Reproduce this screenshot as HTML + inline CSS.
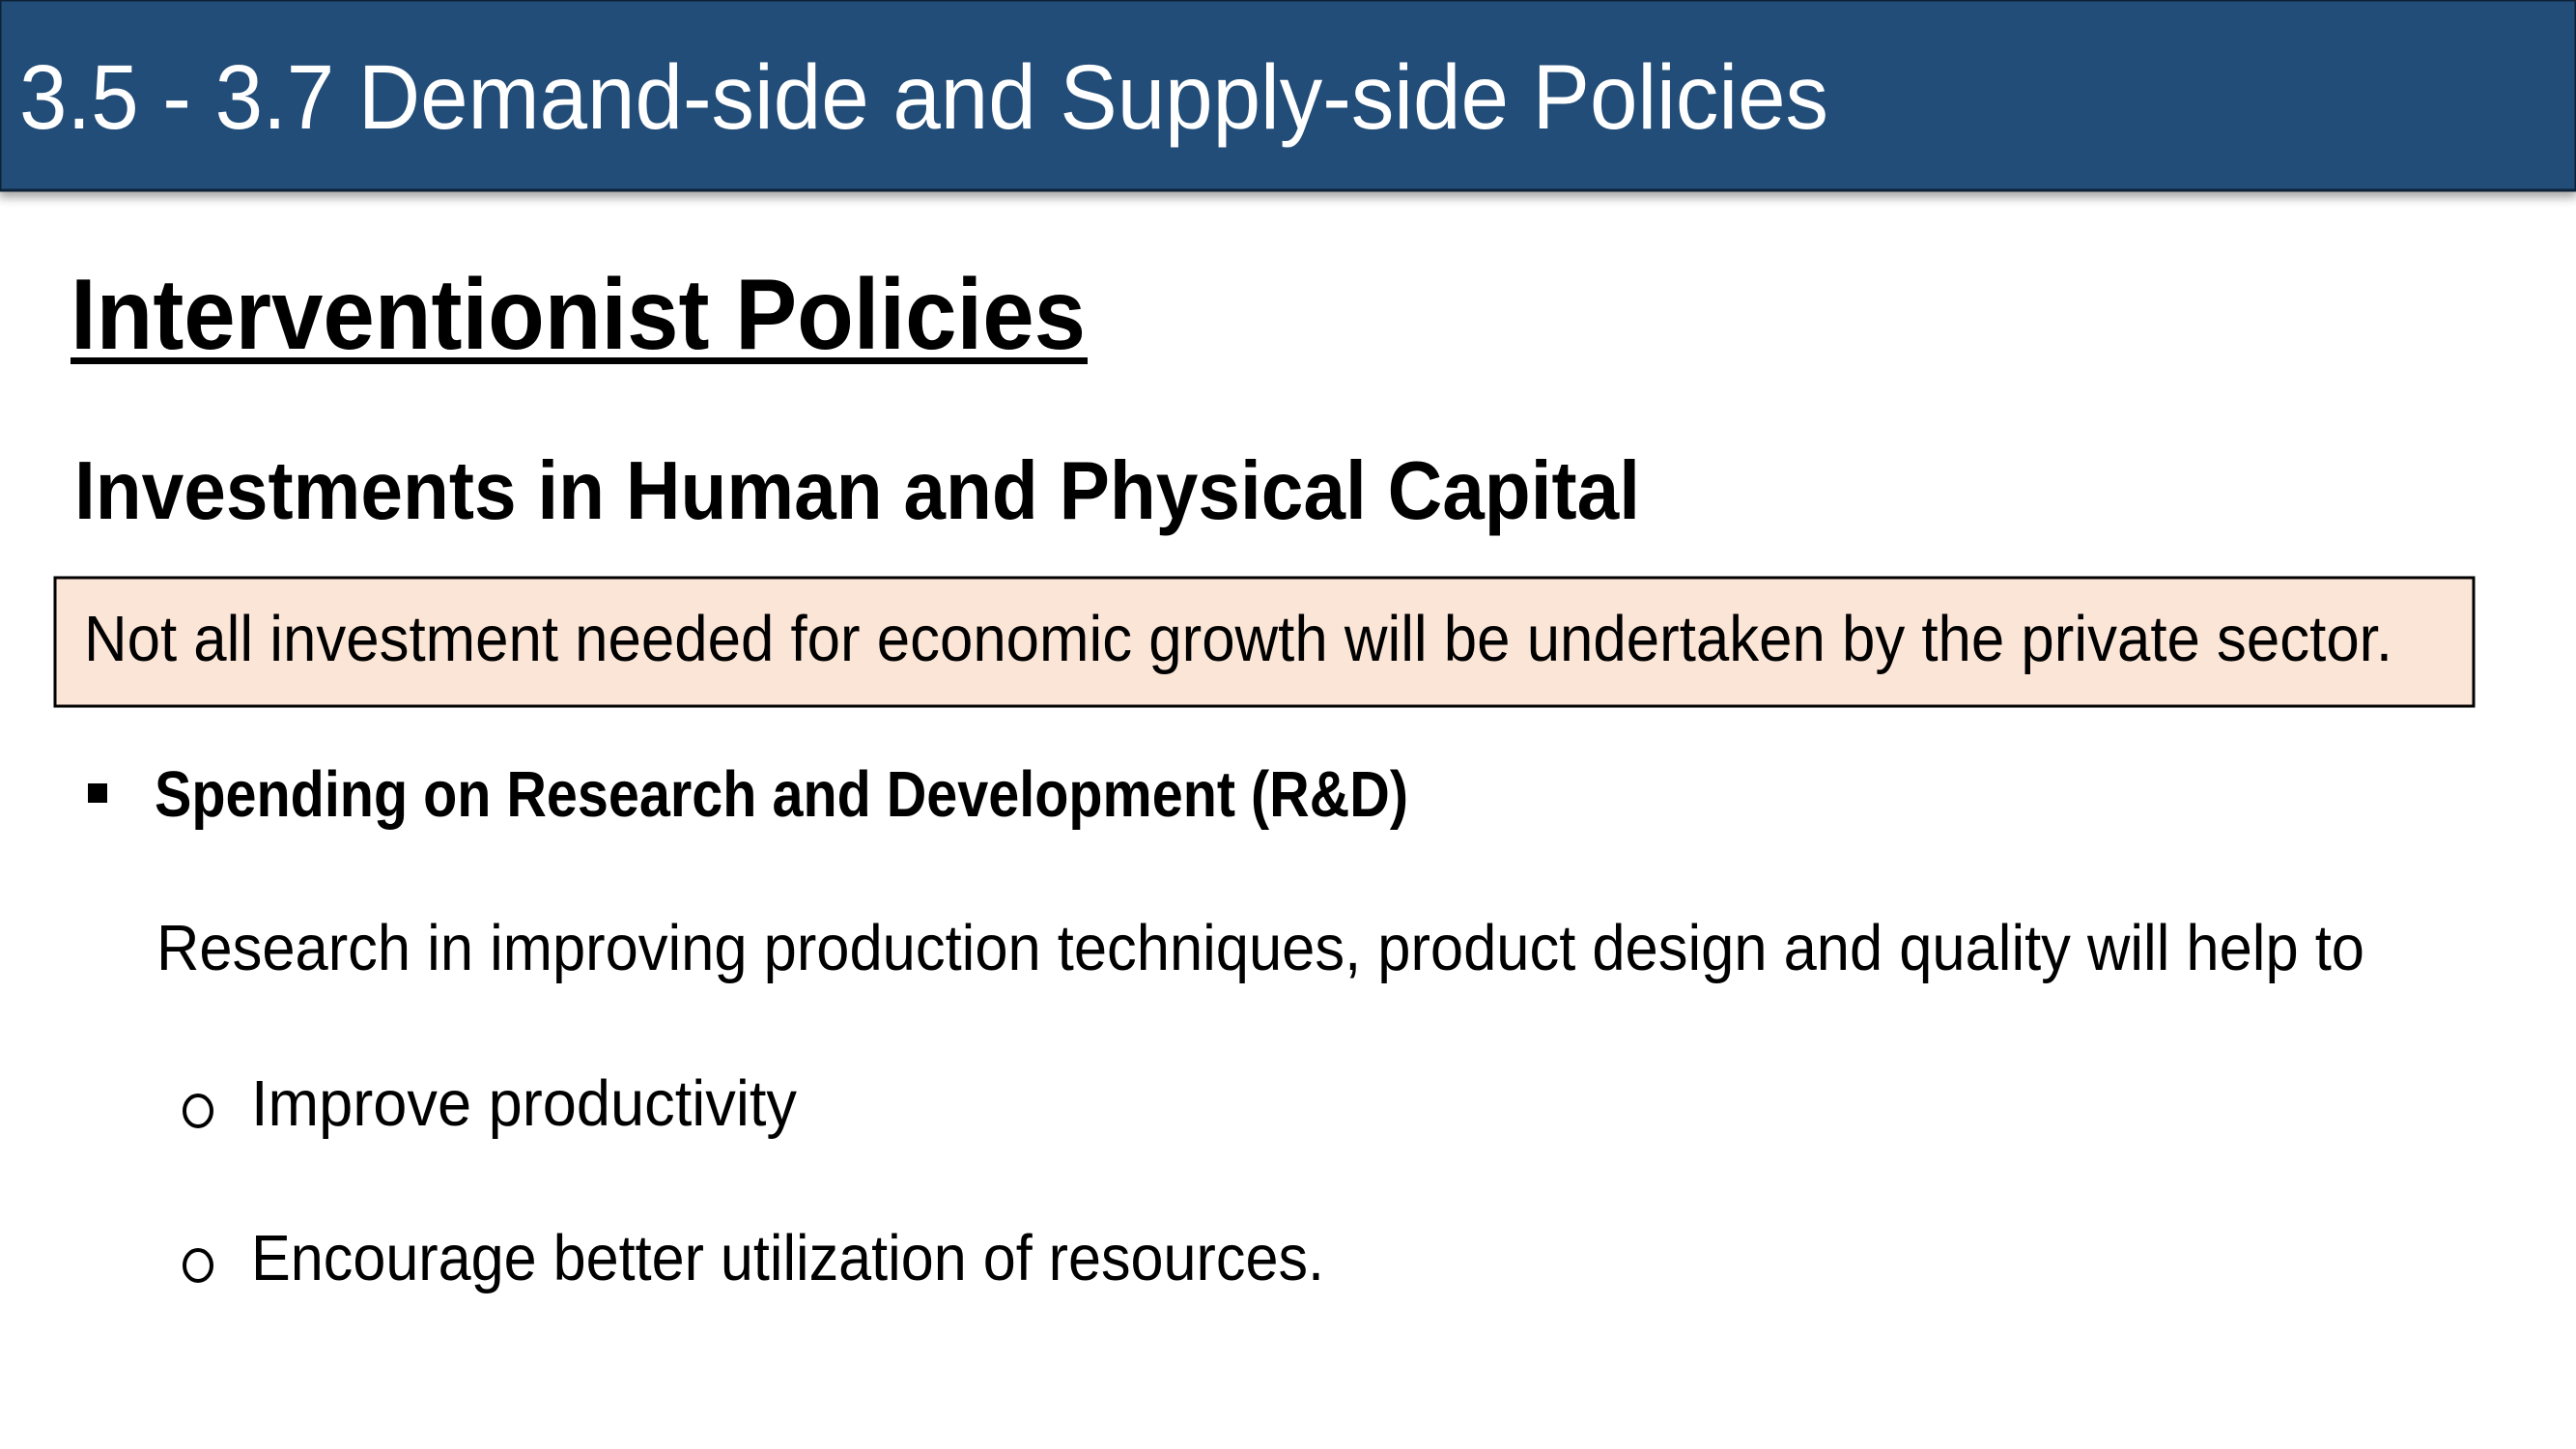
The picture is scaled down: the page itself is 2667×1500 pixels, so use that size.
<!DOCTYPE html>
<html><head><meta charset="utf-8"><style>
html,body{margin:0;padding:0;background:#fff;width:2667px;height:1500px;overflow:hidden}
svg{display:block}
</style></head><body>
<svg width="2667" height="1500" viewBox="0 0 2667 1500" xmlns="http://www.w3.org/2000/svg">
<defs>
<filter id="sh" x="-5%" y="-20%" width="110%" height="150%"><feDropShadow dx="0" dy="6" stdDeviation="5" flood-color="#000" flood-opacity="0.35"/></filter>
</defs>
<g>
<rect x="0" y="0" width="2667" height="197" fill="#224e78" stroke="#0d2238" stroke-width="3" filter="url(#sh)"/>
<text x="20" y="133" font-family="Liberation Sans, sans-serif" font-size="95" fill="#fff" textLength="1873" lengthAdjust="spacingAndGlyphs">3.5 - 3.7 Demand-side and Supply-side Policies</text>
</g>
<text x="73" y="361" font-family="Liberation Sans, sans-serif" font-weight="bold" font-size="104" fill="#000" textLength="1051" lengthAdjust="spacingAndGlyphs">Interventionist Policies</text>
<rect x="73" y="370" width="1053" height="7" fill="#000"/>
<text x="77" y="537" font-family="Liberation Sans, sans-serif" font-weight="bold" font-size="85" fill="#000" textLength="1621" lengthAdjust="spacingAndGlyphs">Investments in Human and Physical Capital</text>
<g>
<rect x="57" y="598" width="2504" height="133" fill="#fbe5d6" stroke="#000" stroke-width="3"/>
<text x="87" y="684" font-family="Liberation Sans, sans-serif" font-size="67" fill="#000" textLength="2390" lengthAdjust="spacingAndGlyphs">Not all investment needed for economic growth will be undertaken by the private sector.</text>
</g>
<rect x="91" y="811" width="20" height="20" fill="#000"/>
<text x="160" y="845" font-family="Liberation Sans, sans-serif" font-weight="bold" font-size="67" fill="#000" textLength="1298" lengthAdjust="spacingAndGlyphs">Spending on Research and Development (R&amp;D)</text>
<text x="162" y="1004" font-family="Liberation Sans, sans-serif" font-size="67" fill="#000" textLength="2286" lengthAdjust="spacingAndGlyphs">Research in improving production techniques, product design and quality will help to</text>
<ellipse cx="205" cy="1150" rx="14" ry="16" fill="none" stroke="#000" stroke-width="4"/>
<text x="260" y="1165" font-family="Liberation Sans, sans-serif" font-size="67" fill="#000" textLength="565" lengthAdjust="spacingAndGlyphs">Improve productivity</text>
<ellipse cx="205" cy="1310" rx="14" ry="16" fill="none" stroke="#000" stroke-width="4"/>
<text x="260" y="1325" font-family="Liberation Sans, sans-serif" font-size="67" fill="#000" textLength="1111" lengthAdjust="spacingAndGlyphs">Encourage better utilization of resources.</text>
</svg>
</body></html>
